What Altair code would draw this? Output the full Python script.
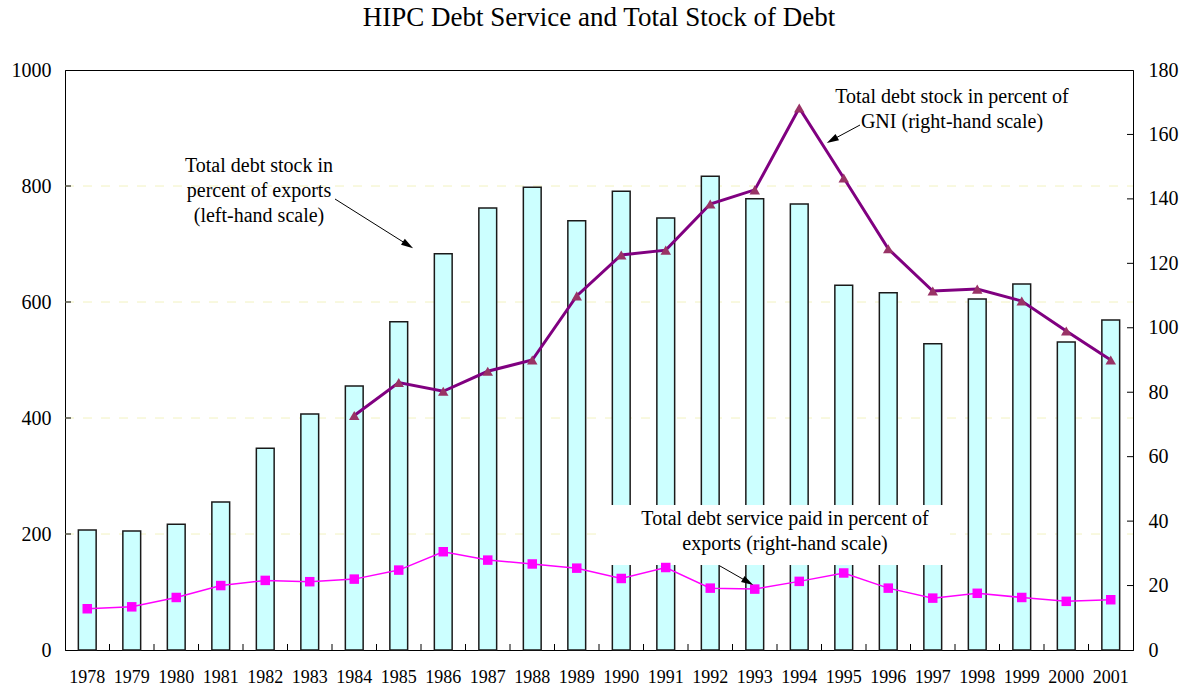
import altair as alt
import pandas as pd

# ---------------- data ----------------
years = [str(y) for y in range(1978, 2002)]
debt_stock_exports = [207, 205, 217, 255, 348, 407, 455, 566, 683, 762, 798, 740,
                      791, 745, 817, 778, 769, 629, 616, 528, 605, 631, 531, 569]
gni_years = [str(y) for y in range(1984, 2002)]
debt_stock_gni = [72.8, 83.0, 80.3, 86.5, 90.0, 109.9, 122.6, 124.1, 138.4, 142.8,
                  168.2, 146.5, 124.5, 111.4, 112.0, 108.3, 99.0, 90.0]
debt_service = [12.8, 13.4, 16.3, 20.0, 21.6, 21.2, 22.0, 24.8, 30.5, 27.9, 26.7, 25.4,
                22.2, 25.6, 19.2, 18.9, 21.3, 23.9, 19.2, 16.1, 17.6, 16.3, 15.1, 15.6]
left_ticks = [0, 200, 400, 600, 800, 1000]
right_ticks = [0, 20, 40, 60, 80, 100, 120, 140, 160, 180]
grid_values = [200, 400, 600, 800]

title_text = "HIPC Debt Service and Total Stock of Debt"
note_exports = ["Total debt stock in", "percent of exports", "(left-hand scale)"]
note_gni = ["Total debt stock in percent of", "GNI (right-hand scale)"]
note_service = ["Total debt service paid in percent of", "exports (right-hand scale)"]

# ---------------- layout / style ----------------
W, H = 1068, 580
FONT = "Liberation Serif"
ARROW_PATH = "M0,-1L0.6,1L-0.6,1Z"

df = pd.DataFrame({"year": years, "exports": debt_stock_exports, "service": debt_service})
gni_df = pd.DataFrame({"year": gni_years, "gni": debt_stock_gni})
one = pd.DataFrame({"k": [0]})

left_scale = alt.Scale(domain=[0, 1000], nice=False, zero=True)
right_scale = alt.Scale(domain=[0, 180], nice=False, zero=True)
x_scale = alt.Scale(paddingInner=0, paddingOuter=0)

x_axis = alt.Axis(title=None, labelAngle=0, ticks=False, grid=False,
                  labelFont=FONT, labelFontSize=18, labelColor="black",
                  labelPadding=32, labelBaseline="alphabetic",
                  domainColor="black", domainWidth=1)
left_axis = alt.Axis(title=None, values=left_ticks, format="d", ticks=False, grid=False,
                     labelFont=FONT, labelFontSize=20, labelColor="black",
                     labelPadding=14, domainColor="black", domainWidth=1)
right_axis = alt.Axis(title=None, values=right_ticks, format="d", ticks=False, grid=False,
                      orient="right", labelFont=FONT, labelFontSize=20,
                      labelColor="black", labelPadding=15,
                      domainColor="black", domainWidth=1)


def X(**kw):
    return alt.X("year:O", scale=x_scale, axis=x_axis, sort=years, **kw)


grid = alt.Chart(pd.DataFrame({"v": grid_values})).mark_rule(
    stroke="#F2F2C0", strokeDash=[9, 9], strokeWidth=1
).encode(y=alt.Y("v:Q", scale=left_scale, axis=None),
         x=alt.value(0), x2=alt.value(W))

bars = alt.Chart(df).mark_bar(
    width=alt.RelativeBandSize(0.4), fill="#CCFFFF", stroke="#1a1a1a", strokeWidth=1.5
).encode(x=X(), y=alt.Y("exports:Q", scale=left_scale, axis=left_axis))

white_box = alt.Chart(one).mark_rect(fill="white").encode(
    x=alt.value(535), x2=alt.value(885), y=alt.value(435), y2=alt.value(495))

gni_line = alt.Chart(gni_df).mark_line(color="#800080", strokeWidth=3).encode(
    x=X(), y=alt.Y("gni:Q", scale=right_scale, axis=right_axis))
gni_pts = alt.Chart(gni_df).mark_point(
    shape="triangle-up", filled=True, size=110, color="#993366", opacity=1
).encode(x=X(), y=alt.Y("gni:Q", scale=right_scale, axis=None))

svc_line = alt.Chart(df).mark_line(color="#FF00FF", strokeWidth=1.5).encode(
    x=X(), y=alt.Y("service:Q", scale=right_scale, axis=None))
svc_pts = alt.Chart(df).mark_square(size=90, color="#FF00FF", opacity=1).encode(
    x=X(), y=alt.Y("service:Q", scale=right_scale, axis=None))

lt = alt.Chart(pd.DataFrame({"v": left_ticks[1:-1]})).mark_rule(color="black").encode(
    y=alt.Y("v:Q", scale=left_scale, axis=None), x=alt.value(0), x2=alt.value(6))
rt = alt.Chart(pd.DataFrame({"v": right_ticks[1:-1]})).mark_rule(color="black").encode(
    y=alt.Y("v:Q", scale=right_scale, axis=None), x=alt.value(W - 6), x2=alt.value(W))
xt = alt.Chart(pd.DataFrame({"year": years[1:]})).mark_rule(color="black").encode(
    x=X(bandPosition=0), y=alt.value(H - 6), y2=alt.value(H))


def note(lines, x, y, size=20):
    return alt.Chart(one).mark_text(
        text=lines, font=FONT, fontSize=size, color="black", align="center",
        baseline="alphabetic", lineHeight=25
    ).encode(x=alt.value(x), y=alt.value(y))


def arrow(x0, y0, x1, y1, ang):
    line = alt.Chart(one).mark_rule(color="black", strokeWidth=1).encode(
        x=alt.value(x0), y=alt.value(y0), x2=alt.value(x1), y2=alt.value(y1))
    head = alt.Chart(one).mark_point(
        shape=ARROW_PATH, filled=True, size=144, color="black", opacity=1, angle=ang
    ).encode(x=alt.value(x1), y=alt.value(y1))
    return line + head


title = note(title_text, W / 2, -44, size=27)
notes = (note(note_exports, 194, 102) + note(note_gni, 887, 33) + note(note_service, 720, 455))
arrows = (arrow(270, 129, 343, 175, 122) + arrow(795, 55, 767, 70, 241)
          + arrow(655, 496, 683, 512, 120))

chart = alt.layer(
    grid, bars, white_box, gni_line, gni_pts, svc_line, svc_pts, lt, rt, xt,
    notes, arrows, title
).resolve_scale(y="independent").properties(
    width=W, height=H,
    autosize=alt.AutoSizeParams(type="none"),
    padding={"left": 65, "top": 70, "right": 58, "bottom": 38},
    background="white",
).configure_view(stroke="black", strokeWidth=1)

chart.save("out.html", embed_options={"renderer": "svg", "actions": False})
